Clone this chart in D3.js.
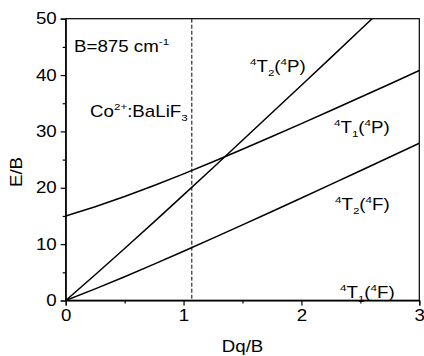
<!DOCTYPE html>
<html><head><meta charset="utf-8">
<script src="https://cdn.jsdelivr.net/npm/d3@7"></script>
<style>
body{margin:0;background:#fff}
text{font-family:"Liberation Sans",Arial,Helvetica,sans-serif;fill:#000}
</style>
</head><body>
<svg id="c" width="424" height="356"></svg>
<script>
// Data (E/B versus Dq/B)
const dq   = [0, 0.25, 0.5, 0.75, 1.0, 1.25, 1.5, 1.75, 2.0, 2.25, 2.5, 2.75, 3.0];
const t1F  = [0, 0, 0, 0, 0, 0, 0, 0, 0, 0, 0, 0, 0];
const t2F  = [0, 2.06, 4.22, 6.45, 8.74, 11.06, 13.42, 15.80, 18.19, 20.60, 23.03, 25.46, 27.90];
const t1P  = [15, 16.62, 18.44, 20.40, 22.47, 24.62, 26.83, 29.09, 31.39, 33.71, 36.06, 38.42, 40.80];
const t2P  = [0, 4.56, 9.22, 13.95, 18.74, 23.56, 28.42, 33.30, 38.19, 43.10, 48.03, 52.96, 57.90];
const series = [t1F, t2F, t1P, t2P];
const xMajor = [0, 1, 2, 3];
const xMinor = [0.5, 1.5, 2.5];
const yMajor = [0, 10, 20, 30, 40, 50];
const yMinor = [5, 15, 25, 35, 45];
const markerX = 1.07;

const svg = d3.select("#c");
const L = 65.7, R = 419.3, T = 18.7, B = 300.5;
const x = d3.scaleLinear().domain([0, 3]).range([L, R]);
const y = d3.scaleLinear().domain([0, 50]).range([B, T]);
const SX = 1.17;

svg.append("defs").append("clipPath").attr("id", "clip")
  .append("rect").attr("x", L).attr("y", T).attr("width", R - L).attr("height", B - T);

// frame
svg.append("rect").attr("x", L).attr("y", T).attr("width", R - L).attr("height", B - T)
  .attr("fill", "none").attr("stroke", "#000").attr("stroke-width", 1.2);

// dashed marker
svg.append("line").attr("x1", x(markerX)).attr("x2", x(markerX)).attr("y1", y(50)).attr("y2", y(0))
  .attr("stroke", "#000").attr("stroke-width", 1).attr("stroke-dasharray", "4,2");

// curves
const line = d3.line().x((d, i) => x(dq[i])).y(d => y(d));
svg.append("g").attr("clip-path", "url(#clip)")
  .selectAll("path").data(series).join("path")
  .attr("d", line).attr("fill", "none").attr("stroke", "#000").attr("stroke-width", 1.5);

// axes
function styleAxis(g) {
  g.select(".domain").attr("stroke-width", 1.2);
  g.selectAll(".tick line").attr("stroke-width", 1.2);
}
const gx = svg.append("g").attr("transform", `translate(0,${B})`)
  .call(d3.axisBottom(x).tickValues(xMajor).tickSize(5).tickPadding(4).tickFormat(d3.format("d")));
gx.call(styleAxis);
gx.selectAll("text").attr("font-size", 16).attr("transform", `scale(${SX},1)`).attr("x", 0);
svg.append("g").attr("transform", `translate(0,${B})`)
  .call(d3.axisBottom(x).tickValues(xMinor).tickSize(3).tickFormat(""))
  .call(g => g.select(".domain").remove()).call(styleAxis);

const gy = svg.append("g").attr("transform", `translate(${L},0)`)
  .call(d3.axisLeft(y).tickValues(yMajor).tickSize(5).tickPadding(4).tickFormat(d3.format("d")));
gy.call(styleAxis);
gy.selectAll("text").attr("font-size", 16).attr("transform", `scale(${SX},1)`)
  .attr("x", -9 / SX);
svg.append("g").attr("transform", `translate(${L},0)`)
  .call(d3.axisLeft(y).tickValues(yMinor).tickSize(3).tickFormat(""))
  .call(g => g.select(".domain").remove()).call(styleAxis);
svg.selectAll(".tick text").attr("fill", "#000").style("font-family", '"Liberation Sans",Arial,sans-serif');

// axis titles
svg.append("text").attr("font-size", 16).attr("text-anchor", "middle")
  .attr("transform", `translate(${(L + R) / 2},352) scale(${SX},1)`).text("Dq/B");
svg.append("text").attr("font-size", 16).attr("text-anchor", "middle")
  .attr("transform", `translate(22,172) rotate(-90) scale(${SX},1)`).text("E/B");

// rich labels
function rich(px, py, parts, size) {
  const t = svg.append("text").attr("font-size", size)
    .attr("transform", `translate(${px},${py}) scale(${SX},1)`);
  let cur = 0;
  parts.forEach(([s, kind]) => {
    const off = kind === "sup" ? -7 : kind === "sub" ? 4 : 0;
    t.append("tspan").attr("dy", off - cur).attr("font-size", kind === "n" ? size : size * 0.62).text(s);
    cur = off;
  });
}
rich(74, 52, [["B=875 cm", "n"], ["-1", "sup"]], 16);
rich(90, 117, [["Co", "n"], ["2+", "sup"], [":BaLiF", "n"], ["3", "sub"]], 16);
rich(250, 72, [["4", "sup"], ["T", "n"], ["2", "sub"], ["(", "n"], ["4", "sup"], ["P)", "n"]], 16);
rich(334, 133, [["4", "sup"], ["T", "n"], ["1", "sub"], ["(", "n"], ["4", "sup"], ["P)", "n"]], 16);
rich(335, 210, [["4", "sup"], ["T", "n"], ["2", "sub"], ["(", "n"], ["4", "sup"], ["F)", "n"]], 16);
rich(340, 298, [["4", "sup"], ["T", "n"], ["1", "sub"], ["(", "n"], ["4", "sup"], ["F)", "n"]], 16);
</script>
</body></html>
